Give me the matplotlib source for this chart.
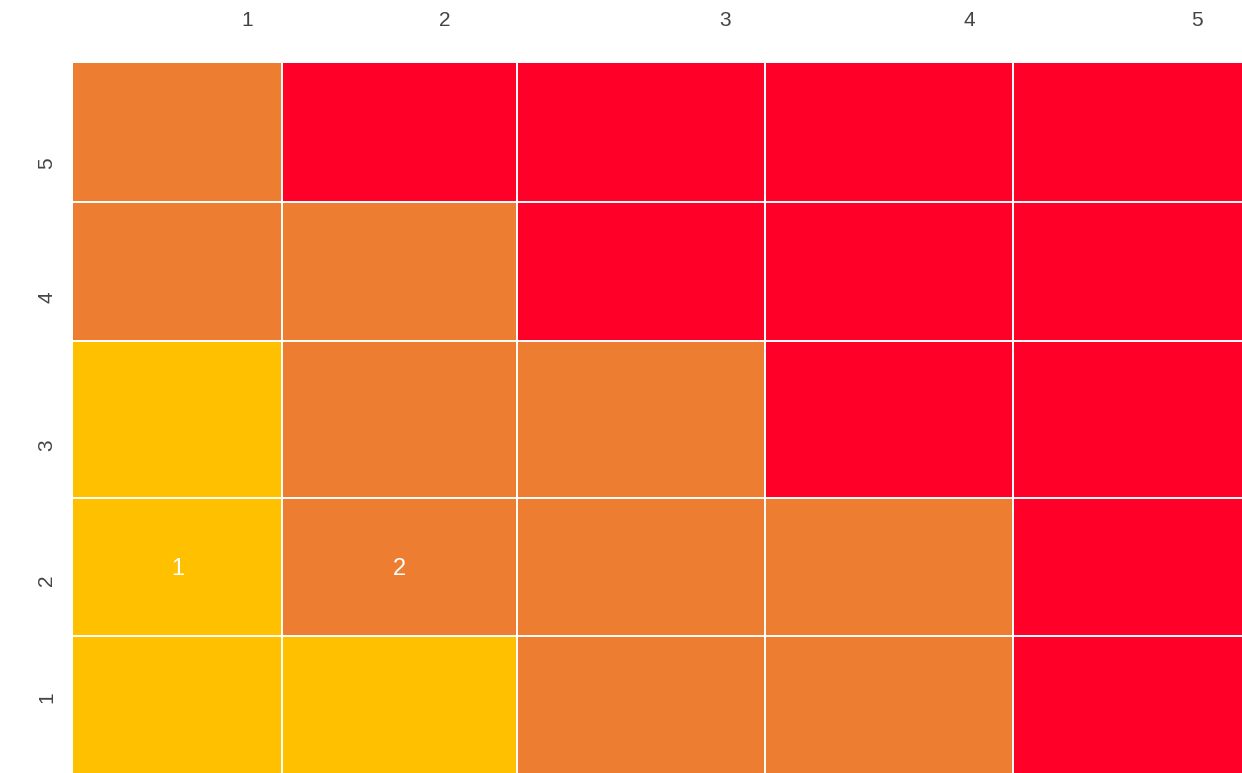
import matplotlib
matplotlib.use("Agg")
import matplotlib.pyplot as plt
from matplotlib.colors import ListedColormap
import numpy as np

# Data
x_labels = ["1", "2", "3", "4", "5"]
y_labels = ["5", "4", "3", "2", "1"]          # top to bottom
# risk level per cell: 0=yellow, 1=orange, 2=red (rows top->bottom)
levels = [
    [1, 2, 2, 2, 2],
    [1, 1, 2, 2, 2],
    [0, 1, 1, 2, 2],
    [0, 1, 1, 1, 2],
    [0, 0, 1, 1, 2],
]
annotations = [("2", "1", "1"), ("2", "2", "2")]  # (row label, col label, text)

# Layout (pixel-like coordinates inside the heat area)
col_edges = [0, 209, 444, 692, 940, 1169]
row_edges = [0, 139, 278, 435, 573, 710]
xtick_pos = [174, 372, 652, 896, 1124]
ytick_pos = [100, 234, 382, 517, 634]

colors = ["#FFC000", "#ED7D31", "#FF0029"]

plt.rcParams['font.family'] = ['Liberation Sans', 'DejaVu Sans']

fig = plt.figure(figsize=(12.42, 7.73), dpi=100)
ax = fig.add_axes([73 / 1242, 0, 1169 / 1242, 710 / 773])

ax.pcolormesh(col_edges, row_edges, np.array(levels), cmap=ListedColormap(colors),
              vmin=-0.5, vmax=2.5, edgecolor="none", linewidth=0)
for xe in col_edges[1:-1]:
    ax.axvline(xe, color="white", lw=1.4)
for ye in row_edges[1:-1]:
    ax.axhline(ye, color="white", lw=1.4)
ax.set_xlim(0, 1169)
ax.set_ylim(710, 0)

ax.xaxis.tick_top()
ax.set_xticks(xtick_pos)
ax.set_xticklabels(x_labels)
ax.set_yticks(ytick_pos)
ax.set_yticklabels(y_labels, rotation=90, va="center")
ax.tick_params(axis="x", length=0, pad=24, labelsize=15, labelcolor="#444444")
ax.tick_params(axis="y", length=0, pad=12, labelsize=15, labelcolor="#444444")
for s in ax.spines.values():
    s.set_visible(False)

for r, c, t in annotations:
    ri = y_labels.index(r)
    ci = x_labels.index(c)
    xc = (col_edges[ci] + col_edges[ci + 1]) / 2
    yc = (row_edges[ri] + row_edges[ri + 1]) / 2 + 2
    ax.text(xc, yc, t, ha="center", va="center", color="white", fontsize=17)

fig.savefig("out.png", dpi=100)
